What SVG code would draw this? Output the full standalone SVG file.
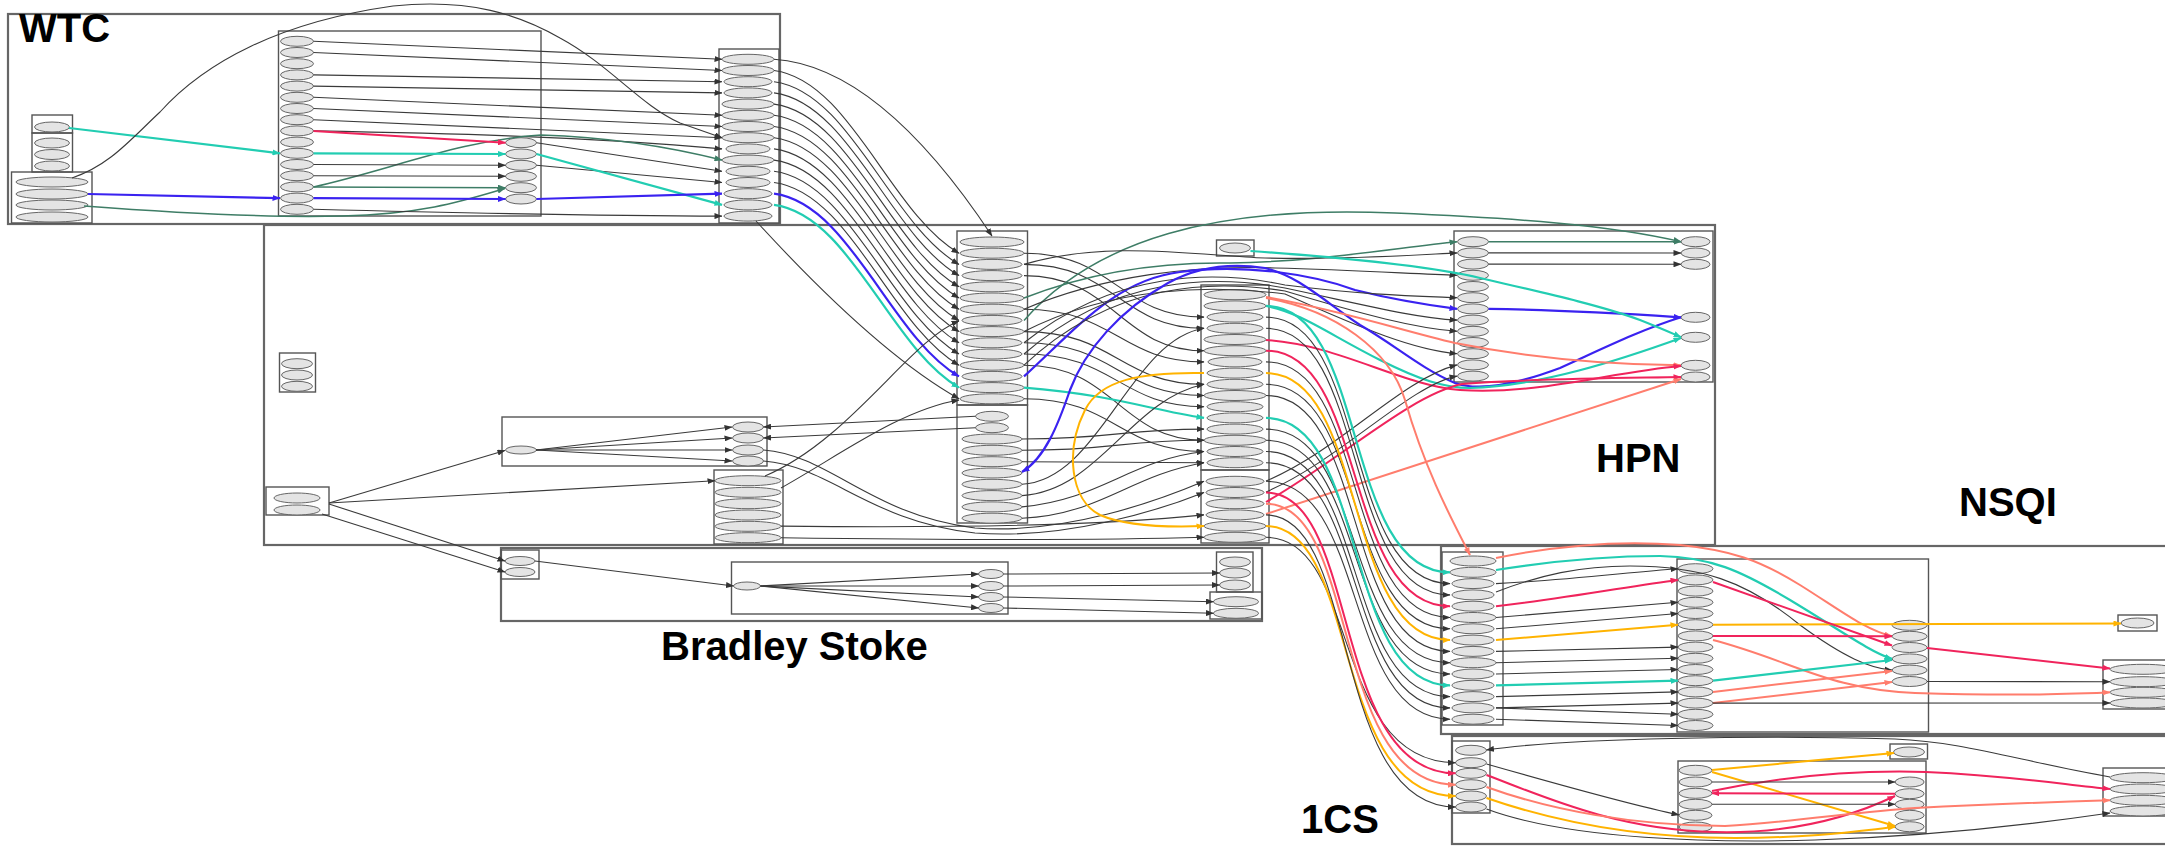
<svg xmlns="http://www.w3.org/2000/svg" width="2165" height="848" viewBox="0 0 2165 848">
<defs>
<style>
.node ellipse{fill:#e4e4e4;stroke:#666;stroke-width:1}
.node rect{fill:none;stroke:#555;stroke-width:1.4}
.node rect.ob{stroke:#666;stroke-width:2.2}
.lbl{font-family:"Liberation Sans",Arial,sans-serif;font-weight:bold;font-size:40px;fill:#000}
#edges path{fill:none;stroke:#3a3a3a;stroke-width:1.1;marker-end:url(#mk)}
#edges path.t{stroke:#22cdb2;stroke-width:2.2;marker-end:url(#mt)}
#edges path.b{stroke:#3a22f0;stroke-width:2.2;marker-end:url(#mb)}
#edges path.r{stroke:#f0245c;stroke-width:2;marker-end:url(#mr)}
#edges path.s{stroke:#ff7d6d;stroke-width:2;marker-end:url(#ms)}
#edges path.o{stroke:#ffb300;stroke-width:2;marker-end:url(#mo)}
#edges path.g{stroke:#3e7d66;stroke-width:1.5;marker-end:url(#mg)}
</style>
<marker id="mk" markerUnits="userSpaceOnUse" markerWidth="8" markerHeight="6" refX="7.5" refY="3" orient="auto"><path d="M0,0L8,3L0,6z" fill="#333"/></marker>
<marker id="mt" markerUnits="userSpaceOnUse" markerWidth="8" markerHeight="6" refX="7.5" refY="3" orient="auto"><path d="M0,0L8,3L0,6z" fill="#22cdb2"/></marker>
<marker id="mb" markerUnits="userSpaceOnUse" markerWidth="8" markerHeight="6" refX="7.5" refY="3" orient="auto"><path d="M0,0L8,3L0,6z" fill="#3a22f0"/></marker>
<marker id="mr" markerUnits="userSpaceOnUse" markerWidth="8" markerHeight="6" refX="7.5" refY="3" orient="auto"><path d="M0,0L8,3L0,6z" fill="#f0245c"/></marker>
<marker id="ms" markerUnits="userSpaceOnUse" markerWidth="8" markerHeight="6" refX="7.5" refY="3" orient="auto"><path d="M0,0L8,3L0,6z" fill="#ff7d6d"/></marker>
<marker id="mo" markerUnits="userSpaceOnUse" markerWidth="8" markerHeight="6" refX="7.5" refY="3" orient="auto"><path d="M0,0L8,3L0,6z" fill="#ffb300"/></marker>
<marker id="mg" markerUnits="userSpaceOnUse" markerWidth="8" markerHeight="6" refX="7.5" refY="3" orient="auto"><path d="M0,0L8,3L0,6z" fill="#3e7d66"/></marker>
</defs>
<rect width="2165" height="848" fill="#fff"/>

<g id="wtc" class="node">
<rect class="ob" x="8" y="14" width="772" height="210"/>
<text class="lbl" x="19" y="42">WTC</text>
<rect x="32" y="115" width="40.5" height="18"/>
<rect x="32" y="133" width="40.5" height="39"/>
<ellipse cx="52" cy="127" rx="17.5" ry="5"/>
<ellipse cx="52" cy="143" rx="17.5" ry="5"/>
<ellipse cx="52" cy="154.5" rx="17.5" ry="5"/>
<ellipse cx="52" cy="166" rx="17.5" ry="5"/>
<rect x="11.5" y="172" width="80.5" height="51"/>
<ellipse cx="52" cy="182" rx="36" ry="5"/>
<ellipse cx="52" cy="194" rx="36" ry="5"/>
<ellipse cx="52" cy="205" rx="36" ry="5"/>
<ellipse cx="52" cy="217" rx="36" ry="5"/>
<rect x="278.5" y="31" width="262.5" height="185"/>
<ellipse cx="297" cy="41.3" rx="16.5" ry="5"/>
<ellipse cx="297" cy="52.5" rx="16.5" ry="5"/>
<ellipse cx="297" cy="63.7" rx="16.5" ry="5"/>
<ellipse cx="297" cy="74.9" rx="16.5" ry="5"/>
<ellipse cx="297" cy="86.1" rx="16.5" ry="5"/>
<ellipse cx="297" cy="97.3" rx="16.5" ry="5"/>
<ellipse cx="297" cy="108.5" rx="16.5" ry="5"/>
<ellipse cx="297" cy="119.7" rx="16.5" ry="5"/>
<ellipse cx="297" cy="130.9" rx="16.5" ry="5"/>
<ellipse cx="297" cy="142.1" rx="16.5" ry="5"/>
<ellipse cx="297" cy="153.3" rx="16.5" ry="5"/>
<ellipse cx="297" cy="164.5" rx="16.5" ry="5"/>
<ellipse cx="297" cy="175.7" rx="16.5" ry="5"/>
<ellipse cx="297" cy="186.9" rx="16.5" ry="5"/>
<ellipse cx="297" cy="198.1" rx="16.5" ry="5"/>
<ellipse cx="297" cy="209.3" rx="16.5" ry="5"/>
<ellipse cx="521" cy="142.7" rx="15.5" ry="5"/>
<ellipse cx="521" cy="154" rx="15.5" ry="5"/>
<ellipse cx="521" cy="165.3" rx="15.5" ry="5"/>
<ellipse cx="521" cy="176.3" rx="15.5" ry="5"/>
<ellipse cx="521" cy="187.7" rx="15.5" ry="5"/>
<ellipse cx="521" cy="199" rx="15.5" ry="5"/>
<rect x="719" y="49" width="60" height="174"/>
<ellipse cx="748" cy="59.3" rx="26" ry="5"/>
<ellipse cx="748" cy="70.5" rx="26" ry="5"/>
<ellipse cx="748" cy="81.7" rx="24" ry="5"/>
<ellipse cx="748" cy="92.9" rx="24" ry="5"/>
<ellipse cx="748" cy="104.1" rx="26" ry="5"/>
<ellipse cx="748" cy="115.3" rx="26" ry="5"/>
<ellipse cx="748" cy="126.5" rx="26" ry="5"/>
<ellipse cx="748" cy="137.7" rx="26" ry="5"/>
<ellipse cx="748" cy="148.9" rx="22" ry="5"/>
<ellipse cx="748" cy="160.1" rx="26" ry="5"/>
<ellipse cx="748" cy="171.3" rx="22" ry="5"/>
<ellipse cx="748" cy="182.5" rx="22" ry="5"/>
<ellipse cx="748" cy="193.7" rx="24" ry="5"/>
<ellipse cx="748" cy="204.9" rx="24" ry="5"/>
<ellipse cx="748" cy="216.1" rx="24" ry="5"/>
</g>

<g id="hpn" class="node">
<rect class="ob" x="264" y="225" width="1451" height="320"/>
<text class="lbl" x="1596" y="472">HPN</text>
<rect x="279.5" y="353" width="36" height="39"/>
<ellipse cx="297" cy="363.7" rx="15.5" ry="5"/>
<ellipse cx="297" cy="375" rx="15.5" ry="5"/>
<ellipse cx="297" cy="386.3" rx="15.5" ry="5"/>
<rect x="266" y="487" width="63" height="28"/>
<ellipse cx="297" cy="498" rx="23" ry="5"/>
<ellipse cx="297" cy="510" rx="23" ry="5"/>
<rect x="502" y="417" width="265" height="49"/>
<ellipse cx="521" cy="450" rx="15.5" ry="4"/>
<ellipse cx="748" cy="427" rx="15.5" ry="5"/>
<ellipse cx="748" cy="438" rx="15.5" ry="5"/>
<ellipse cx="748" cy="450" rx="15.5" ry="5"/>
<ellipse cx="748" cy="461" rx="15.5" ry="5"/>
<rect x="714" y="470" width="69" height="74"/>
<ellipse cx="748" cy="480.7" rx="33" ry="5"/>
<ellipse cx="748" cy="492.3" rx="33" ry="5"/>
<ellipse cx="748" cy="503.7" rx="33" ry="5"/>
<ellipse cx="748" cy="515" rx="33" ry="5"/>
<ellipse cx="748" cy="526.3" rx="33" ry="5"/>
<ellipse cx="748" cy="537.7" rx="33" ry="5"/>
<rect x="957" y="231" width="70.5" height="174"/>
<rect x="957" y="405" width="70.5" height="118"/>
<ellipse cx="992" cy="242" rx="32" ry="5"/>
<ellipse cx="992" cy="253.2" rx="32" ry="5"/>
<ellipse cx="992" cy="264.4" rx="30" ry="5"/>
<ellipse cx="992" cy="275.6" rx="30" ry="5"/>
<ellipse cx="992" cy="286.8" rx="32" ry="5"/>
<ellipse cx="992" cy="298" rx="32" ry="5"/>
<ellipse cx="992" cy="309.2" rx="32" ry="5"/>
<ellipse cx="992" cy="320.4" rx="30" ry="5"/>
<ellipse cx="992" cy="331.6" rx="32" ry="5"/>
<ellipse cx="992" cy="342.8" rx="30" ry="5"/>
<ellipse cx="992" cy="354" rx="30" ry="5"/>
<ellipse cx="992" cy="365.2" rx="32" ry="5"/>
<ellipse cx="992" cy="376.4" rx="30" ry="5"/>
<ellipse cx="992" cy="387.6" rx="32" ry="5"/>
<ellipse cx="992" cy="398.8" rx="32" ry="5"/>
<ellipse cx="992" cy="416.3" rx="16.5" ry="5"/>
<ellipse cx="992" cy="427.7" rx="16.5" ry="5"/>
<ellipse cx="992" cy="439" rx="30" ry="5"/>
<ellipse cx="992" cy="450.3" rx="30" ry="5"/>
<ellipse cx="992" cy="461.7" rx="30" ry="5"/>
<ellipse cx="992" cy="473" rx="30" ry="5"/>
<ellipse cx="992" cy="484.3" rx="30" ry="5"/>
<ellipse cx="992" cy="495.6" rx="30" ry="5"/>
<ellipse cx="992" cy="506.9" rx="30" ry="5"/>
<ellipse cx="992" cy="518.2" rx="30" ry="5"/>
<rect x="1216.5" y="240" width="37.5" height="16"/>
<ellipse cx="1235" cy="248" rx="15.5" ry="5"/>
<rect x="1201" y="285" width="68" height="185"/>
<rect x="1201" y="470" width="68" height="73"/>
<ellipse cx="1235" cy="294.7" rx="31" ry="5"/>
<ellipse cx="1235" cy="305.9" rx="31" ry="5"/>
<ellipse cx="1235" cy="317.1" rx="28" ry="5"/>
<ellipse cx="1235" cy="328.3" rx="28" ry="5"/>
<ellipse cx="1235" cy="339.5" rx="31" ry="5"/>
<ellipse cx="1235" cy="350.7" rx="31" ry="5"/>
<ellipse cx="1235" cy="361.9" rx="27" ry="5"/>
<ellipse cx="1235" cy="373.1" rx="28" ry="5"/>
<ellipse cx="1235" cy="384.3" rx="28" ry="5"/>
<ellipse cx="1235" cy="395.5" rx="31" ry="5"/>
<ellipse cx="1235" cy="406.7" rx="28" ry="5"/>
<ellipse cx="1235" cy="417.9" rx="28" ry="5"/>
<ellipse cx="1235" cy="429.1" rx="28" ry="5"/>
<ellipse cx="1235" cy="440.3" rx="31" ry="5"/>
<ellipse cx="1235" cy="451.5" rx="28" ry="5"/>
<ellipse cx="1235" cy="462.7" rx="28" ry="5"/>
<ellipse cx="1235" cy="481.3" rx="29" ry="5"/>
<ellipse cx="1235" cy="492.5" rx="29" ry="5"/>
<ellipse cx="1235" cy="503.7" rx="29" ry="5"/>
<ellipse cx="1235" cy="514.9" rx="29" ry="5"/>
<ellipse cx="1235" cy="526.1" rx="31" ry="5"/>
<ellipse cx="1235" cy="537.3" rx="31" ry="5"/>
<rect x="1454" y="231" width="259" height="151"/>
<ellipse cx="1473" cy="241.7" rx="15.5" ry="5"/>
<ellipse cx="1473" cy="252.9" rx="15.5" ry="5"/>
<ellipse cx="1473" cy="264.1" rx="15.5" ry="5"/>
<ellipse cx="1473" cy="275.3" rx="15.5" ry="5"/>
<ellipse cx="1473" cy="286.5" rx="15.5" ry="5"/>
<ellipse cx="1473" cy="297.7" rx="15.5" ry="5"/>
<ellipse cx="1473" cy="308.9" rx="15.5" ry="5"/>
<ellipse cx="1473" cy="320.1" rx="15.5" ry="5"/>
<ellipse cx="1473" cy="331.3" rx="15.5" ry="5"/>
<ellipse cx="1473" cy="342.5" rx="15.5" ry="5"/>
<ellipse cx="1473" cy="353.7" rx="15.5" ry="5"/>
<ellipse cx="1473" cy="364.9" rx="15.5" ry="5"/>
<ellipse cx="1473" cy="376.1" rx="15.5" ry="5"/>
<ellipse cx="1695.5" cy="241.7" rx="14.5" ry="5"/>
<ellipse cx="1695.5" cy="253" rx="14.5" ry="5"/>
<ellipse cx="1695.5" cy="264.3" rx="14.5" ry="5"/>
<ellipse cx="1695.5" cy="317.3" rx="14.5" ry="5"/>
<ellipse cx="1695.5" cy="337.3" rx="14.5" ry="5"/>
<ellipse cx="1695.5" cy="365.3" rx="14.5" ry="5"/>
<ellipse cx="1695.5" cy="377" rx="14.5" ry="5"/>
</g>

<g id="bradley" class="node">
<rect class="ob" x="501" y="548" width="761" height="73"/>
<text class="lbl" x="661" y="660">Bradley Stoke</text>
<rect x="501" y="550" width="38" height="29"/>
<ellipse cx="520" cy="561" rx="15" ry="4.5"/>
<ellipse cx="520" cy="572" rx="15" ry="4.5"/>
<rect x="731.5" y="562" width="276.5" height="52"/>
<ellipse cx="747" cy="586" rx="13.5" ry="4"/>
<ellipse cx="991" cy="574" rx="12.5" ry="4.5"/>
<ellipse cx="991" cy="586" rx="12.5" ry="4.5"/>
<ellipse cx="991" cy="597" rx="12.5" ry="4.5"/>
<ellipse cx="991" cy="608" rx="12.5" ry="4.5"/>
<rect x="1216.5" y="552" width="36.5" height="40"/>
<ellipse cx="1235" cy="562" rx="15.5" ry="5"/>
<ellipse cx="1235" cy="573" rx="15.5" ry="5"/>
<ellipse cx="1235" cy="585" rx="15.5" ry="5"/>
<rect x="1210" y="592" width="52" height="27"/>
<ellipse cx="1236" cy="601.7" rx="22.5" ry="5"/>
<ellipse cx="1236" cy="613.3" rx="22.5" ry="5"/>
</g>

<g id="nsqi" class="node">
<rect class="ob" x="1441" y="546" width="740" height="188"/>
<text class="lbl" x="1959" y="516">NSQI</text>
<rect x="1442" y="552" width="61" height="173"/>
<ellipse cx="1473" cy="561" rx="23" ry="5"/>
<ellipse cx="1473" cy="572.3" rx="23" ry="5"/>
<ellipse cx="1473" cy="583.6" rx="21" ry="5"/>
<ellipse cx="1473" cy="594.9" rx="21" ry="5"/>
<ellipse cx="1473" cy="606.2" rx="21" ry="5"/>
<ellipse cx="1473" cy="617.5" rx="23" ry="5"/>
<ellipse cx="1473" cy="628.8" rx="21" ry="5"/>
<ellipse cx="1473" cy="640.1" rx="21" ry="5"/>
<ellipse cx="1473" cy="651.4" rx="21" ry="5"/>
<ellipse cx="1473" cy="662.7" rx="23" ry="5"/>
<ellipse cx="1473" cy="674" rx="21" ry="5"/>
<ellipse cx="1473" cy="685.3" rx="21" ry="5"/>
<ellipse cx="1473" cy="696.6" rx="21" ry="5"/>
<ellipse cx="1473" cy="707.9" rx="21" ry="5"/>
<ellipse cx="1473" cy="719.2" rx="21" ry="5"/>
<rect x="1677" y="559" width="251.5" height="173"/>
<ellipse cx="1695.5" cy="568.7" rx="17.5" ry="5"/>
<ellipse cx="1695.5" cy="579.9" rx="17.5" ry="5"/>
<ellipse cx="1695.5" cy="591.1" rx="17.5" ry="5"/>
<ellipse cx="1695.5" cy="602.3" rx="17.5" ry="5"/>
<ellipse cx="1695.5" cy="613.5" rx="17.5" ry="5"/>
<ellipse cx="1695.5" cy="624.7" rx="17.5" ry="5"/>
<ellipse cx="1695.5" cy="635.9" rx="17.5" ry="5"/>
<ellipse cx="1695.5" cy="647.1" rx="17.5" ry="5"/>
<ellipse cx="1695.5" cy="658.3" rx="17.5" ry="5"/>
<ellipse cx="1695.5" cy="669.5" rx="17.5" ry="5"/>
<ellipse cx="1695.5" cy="680.7" rx="17.5" ry="5"/>
<ellipse cx="1695.5" cy="691.9" rx="17.5" ry="5"/>
<ellipse cx="1695.5" cy="703.1" rx="17.5" ry="5"/>
<ellipse cx="1695.5" cy="714.3" rx="17.5" ry="5"/>
<ellipse cx="1695.5" cy="725.5" rx="17.5" ry="5"/>
<ellipse cx="1909.6" cy="625.3" rx="17.5" ry="5"/>
<ellipse cx="1909.6" cy="636.3" rx="17.5" ry="5"/>
<ellipse cx="1909.6" cy="647.5" rx="17.5" ry="5"/>
<ellipse cx="1909.6" cy="658.9" rx="17.5" ry="5"/>
<ellipse cx="1909.6" cy="670.1" rx="17.5" ry="5"/>
<ellipse cx="1909.6" cy="681.5" rx="17.5" ry="5"/>
<rect x="2118" y="615" width="39" height="16"/>
<ellipse cx="2137.5" cy="623" rx="16.5" ry="5"/>
<rect x="2103" y="660" width="80" height="49"/>
<ellipse cx="2143" cy="669.3" rx="33" ry="5"/>
<ellipse cx="2143" cy="681.7" rx="33" ry="5"/>
<ellipse cx="2143" cy="692.3" rx="33" ry="5"/>
<ellipse cx="2143" cy="703" rx="33" ry="5"/>
</g>

<g id="ics" class="node">
<rect class="ob" x="1452" y="736" width="730" height="108"/>
<text class="lbl" x="1301" y="833">1CS</text>
<rect x="1452" y="741" width="38" height="72"/>
<ellipse cx="1471" cy="750.3" rx="15.5" ry="5"/>
<ellipse cx="1471" cy="762.7" rx="15.5" ry="5"/>
<ellipse cx="1471" cy="773.3" rx="15.5" ry="5"/>
<ellipse cx="1471" cy="784.7" rx="15.5" ry="5"/>
<ellipse cx="1471" cy="796" rx="15.5" ry="5"/>
<ellipse cx="1471" cy="807" rx="15.5" ry="5"/>
<rect x="1678" y="761" width="248" height="72"/>
<ellipse cx="1695.5" cy="770.3" rx="16.5" ry="5"/>
<ellipse cx="1695.5" cy="782" rx="16.5" ry="5"/>
<ellipse cx="1695.5" cy="793.3" rx="16.5" ry="5"/>
<ellipse cx="1695.5" cy="804.3" rx="16.5" ry="5"/>
<ellipse cx="1695.5" cy="815.3" rx="16.5" ry="5"/>
<ellipse cx="1695.5" cy="827" rx="16.5" ry="5"/>
<ellipse cx="1909.6" cy="782" rx="14.5" ry="5"/>
<ellipse cx="1909.6" cy="793.7" rx="14.5" ry="5"/>
<ellipse cx="1909.6" cy="804.3" rx="14.5" ry="5"/>
<ellipse cx="1909.6" cy="815.3" rx="14.5" ry="5"/>
<ellipse cx="1909.6" cy="826.7" rx="14.5" ry="5"/>
<rect x="1890" y="744" width="37.5" height="15"/>
<ellipse cx="1909" cy="752" rx="15.5" ry="5"/>
<rect x="2103" y="768" width="80" height="48"/>
<ellipse cx="2143" cy="777.7" rx="33" ry="5"/>
<ellipse cx="2143" cy="789" rx="33" ry="5"/>
<ellipse cx="2143" cy="800.3" rx="33" ry="5"/>
<ellipse cx="2143" cy="811" rx="33" ry="5"/>
</g>

<g id="edges">
<path class="t" d="M69,128 L280,153.3"/>
<path class="b" d="M88,194 L280,198.1"/>
<path class="g" d="M84,206 C190,214 270,218 342,216 C425,214 466,200 505,188.5"/>
<path d="M313.5,209.3 C460,213 620,216 722,216.1"/>
<path d="M72,178 C110,165 130,140 160,112 C205,62 280,22 393,6 C470,-2 520,15 560,38 C610,65 640,105 680,123 L722,137.7"/>
<path d="M313.5,41.3 L722,59.3"/>
<path d="M313.5,52.5 L722,70.5"/>
<path d="M313.5,74.9 L722,81.7"/>
<path d="M313.5,86.1 L722,92.9"/>
<path d="M313.5,97.3 L722,115.3"/>
<path d="M313.5,108.5 L722,126.5"/>
<path d="M313.5,119.7 L722,137.7"/>
<path d="M313.5,130.9 C430,133 580,136 722,148.9"/>
<path class="g" d="M313.5,186.9 C390,170 460,140 541,135 C630,138 690,152 722,160.1"/>
<path d="M536.5,142.7 L722,171.3"/>
<path d="M536.5,165.3 L722,182.5"/>
<path class="t" d="M536.5,154 L722,204.9"/>
<path class="b" d="M536.5,199 L722,193.7"/>
<path class="r" d="M313.5,130.9 L505.5,142.7"/>
<path class="t" d="M313.5,153.3 L505.5,154"/>
<path d="M313.5,164.5 L505.5,165.3"/>
<path d="M313.5,175.7 L505.5,176.3"/>
<path class="g" d="M313.5,186.9 L505.5,187.7"/>
<path class="b" d="M313.5,198.1 L505.5,199"/>
<path d="M774,59.3 C860,65 935,150 992,236"/>
<path d="M774,70.5 C850,80.5 890,213.2 959,253.2"/>
<path d="M774,81.7 C850,91.7 890,224.4 959,264.4"/>
<path d="M774,92.9 C850,102.9 890,235.6 959,275.6"/>
<path d="M774,104.1 C850,114.1 890,246.8 959,286.8"/>
<path d="M774,115.3 C850,125.3 890,258 959,298"/>
<path d="M774,126.5 C850,136.5 890,269.2 959,309.2"/>
<path d="M774,137.7 C850,147.7 890,280.4 959,320.4"/>
<path d="M774,148.9 C850,158.9 890,291.6 959,331.6"/>
<path d="M774,160.1 C850,170.1 890,302.8 959,342.8"/>
<path d="M774,171.3 C850,181.3 890,314 959,354"/>
<path d="M774,182.5 C850,192.5 890,325.2 959,365.2"/>
<path class="b" d="M774,193.7 C850,203.7 890,336.4 959,376.4"/>
<path class="t" d="M774,204.9 C850,214.9 890,347.6 959,387.6"/>
<path d="M756,221 C810,280 890,360 959,398.8"/>
<path d="M329,503 L505,450.5"/>
<path d="M329,503 L715,480.7"/>
<path d="M329,504 L505,561"/>
<path d="M322,514 L505,572"/>
<path d="M536,450 L732,427"/>
<path d="M536,450 L732,438"/>
<path d="M536,450 L732,450"/>
<path d="M536,450 L732,461"/>
<path d="M975.5,416.3 L763.5,427"/>
<path d="M975.5,427.7 L763.5,438"/>
<path d="M763.5,450 C830,455 870,515 975,528 C1065,535 1160,500 1204,481.3"/>
<path d="M763.5,461 C830,466 870,522 975,533 C1065,540 1160,510 1204,492.5"/>
<path d="M765,476 C850,440 910,340 959,321"/>
<path d="M781,488 C840,455 900,410 959,400"/>
<path d="M781,526.1 C950,528 1110,525 1204,514.9"/>
<path d="M781,537.7 C950,540 1110,540 1204,537.3"/>
<path d="M1024,253.2 C1115,253.2 1120,317.1 1204,317.1"/>
<path d="M1024,264.4 C1115,264.4 1120,328.3 1204,328.3"/>
<path d="M1024,275.6 C1115,275.6 1120,350.7 1204,350.7"/>
<path d="M1024,309.2 C1115,309.2 1120,361.9 1204,361.9"/>
<path d="M1024,331.6 C1115,331.6 1120,384.3 1204,384.3"/>
<path d="M1024,342.8 C1115,342.8 1120,395.5 1204,395.5"/>
<path d="M1024,354 C1115,354 1120,406.7 1204,406.7"/>
<path d="M1024,365.2 C1115,365.2 1120,440.3 1204,440.3"/>
<path d="M1024,398.8 C1115,398.8 1120,451.5 1204,451.5"/>
<path class="t" d="M1024,387.6 C1115,395 1150,410 1204,417.9"/>
<path d="M1022,439 C1115,439 1120,429.1 1204,429.1"/>
<path d="M1022,450.3 C1115,450.3 1120,440.3 1204,440.3"/>
<path d="M1022,461.7 C1115,461.7 1120,462.7 1204,462.7"/>
<path d="M1022,484.3 C1100,480 1130,340 1204,328.3"/>
<path d="M1022,495.6 C1100,490 1130,400 1204,384.3"/>
<path d="M1022,506.9 C1100,500 1130,460 1204,451.5"/>
<path d="M1022,518.2 C1100,515 1130,475 1204,462.7"/>
<path class="g" d="M1024,320.4 C1095,240 1215,205 1395,213 C1515,218 1610,225 1681,241.7"/>
<path class="g" d="M1024,298 C1095,270 1165,262 1230,263 C1315,262 1395,248 1457,241.7"/>
<path d="M1024,309.2 C1105,275 1195,265 1275,268 C1355,270 1415,274 1457,275.3"/>
<path d="M1024,264.4 C1105,240 1195,255 1265,258 C1345,260 1415,255 1457,252.9"/>
<path class="b" d="M1024,376.4 C1075,330 1115,280 1180,272 C1245,263 1315,275 1355,290 C1395,300 1435,306 1457,308.9"/>
<path d="M1024,342.8 C1115,270 1215,270 1285,285 C1365,295 1415,296 1457,297.7"/>
<path d="M1024,354 C1115,275 1215,275 1285,288 C1365,305 1415,318 1457,320.1"/>
<path d="M1024,365.2 C1115,280 1215,280 1285,291 C1365,315 1415,328 1457,331.3"/>
<path d="M1024,331.6 C1115,285 1215,285 1285,294 C1365,330 1415,350 1457,353.7"/>
<path class="b" d="M1681,317.3 C1640,330 1600,350 1560,368 C1520,383 1480,392 1455,383 C1420,368 1395,345 1360,325 C1320,298 1300,277 1265,268 C1225,262 1195,268 1168,283 C1120,310 1085,350 1070,390 C1058,425 1045,458 1022,472"/>
<path class="g" d="M1488.5,241.7 L1681,241.7"/>
<path d="M1488.5,252.9 L1681,253"/>
<path d="M1488.5,264.1 L1681,264.3"/>
<path class="b" d="M1488.5,308.9 C1570,310 1630,314 1681,317.3"/>
<path class="t" d="M1250.5,251 C1350,258 1430,266 1480,278 C1540,292 1600,305 1640,320 C1660,328 1672,333 1681,337.3"/>
<path class="t" d="M1266,306 C1300,312 1330,335 1380,360 C1420,380 1445,388 1470,388 C1540,386 1620,360 1681,338"/>
<path class="s" d="M1266,297 C1340,310 1400,330 1455,343 C1550,362 1630,365 1681,365.3"/>
<path class="r" d="M1266,340 C1340,345 1400,385 1460,390 C1540,395 1610,372 1681,366"/>
<path class="r" d="M1266,502 C1340,460 1410,395 1462,384 C1540,378 1630,378 1681,377"/>
<path class="s" d="M1266,514 L1681,379"/>
<path d="M1266,481 C1340,450 1400,380 1457,364.9"/>
<path d="M1266,492 C1340,460 1410,385 1457,376.1"/>
<path class="o" d="M1204,373.1 C1140,372 1100,380 1085,410 C1065,450 1070,500 1100,515 C1130,528 1180,527 1204,526.1"/>
<path class="s" d="M1266,298 C1335,310 1390,350 1405,400 C1425,470 1452,520 1470,555"/>
<path class="t" d="M1266,305.9 C1368,305.9 1342,572.3 1450,572.3"/>
<path d="M1266,317.1 C1368,317.1 1342,583.6 1450,583.6"/>
<path d="M1266,328.3 C1368,328.3 1342,594.9 1450,594.9"/>
<path class="r" d="M1266,350.7 C1368,350.7 1342,606.2 1450,606.2"/>
<path d="M1266,361.9 C1368,361.9 1342,617.5 1450,617.5"/>
<path d="M1266,384.3 C1368,384.3 1342,628.8 1450,628.8"/>
<path class="o" d="M1266,373.1 C1368,373.1 1342,640.1 1450,640.1"/>
<path d="M1266,395.5 C1368,395.5 1342,651.4 1450,651.4"/>
<path d="M1266,429.1 C1368,429.1 1342,662.7 1450,662.7"/>
<path d="M1266,440.3 C1368,440.3 1342,674 1450,674"/>
<path class="t" d="M1266,417.9 C1368,417.9 1342,685.3 1450,685.3"/>
<path d="M1266,451.5 C1368,451.5 1342,696.6 1450,696.6"/>
<path d="M1266,462.7 C1368,462.7 1342,707.9 1450,707.9"/>
<path d="M1266,481.3 C1368,481.3 1342,719.2 1450,719.2"/>
<path d="M1266,537.3 C1360,537.3 1330,762.7 1455.5,762.7"/>
<path class="r" d="M1266,492.5 C1360,492.5 1330,773.3 1455.5,773.3"/>
<path class="s" d="M1266,503.7 C1360,503.7 1330,784.7 1455.5,784.7"/>
<path class="o" d="M1266,526.1 C1360,526.1 1330,796 1455.5,796"/>
<path d="M1266,514.9 C1360,514.9 1330,807 1455.5,807"/>
<path class="s" d="M1496,558 C1560,545 1620,540 1680,545 C1730,550 1760,560 1800,585 C1840,610 1865,630 1892,636.3"/>
<path class="t" d="M1496,570 C1540,563 1600,556 1660,556 C1710,557 1740,570 1790,600 C1840,630 1870,652 1892,658.9"/>
<path d="M1496,592 C1540,575 1580,566 1630,566 C1700,566 1745,580 1800,625 C1845,658 1870,668 1892,670.1"/>
<path d="M1496,583.6 C1570,580 1630,572 1678,568.7"/>
<path class="r" d="M1496,606.2 C1570,598 1630,586 1678,579.9"/>
<path d="M1496,617.5 L1678,602.3"/>
<path d="M1496,628.8 L1678,613.5"/>
<path class="o" d="M1496,640.1 L1678,624.7"/>
<path d="M1496,651.4 L1678,647.1"/>
<path d="M1496,662.7 L1678,658.3"/>
<path d="M1496,674 L1678,669.5"/>
<path class="t" d="M1496,685.3 L1678,680.7"/>
<path d="M1496,696.6 L1678,691.9"/>
<path d="M1496,707.9 L1678,703.1"/>
<path d="M1496,707.9 L1678,714.3"/>
<path d="M1496,719.2 L1678,725.5"/>
<path class="o" d="M1713,624.7 L2121,623.5"/>
<path class="r" d="M1713,582 L1892,645.5"/>
<path class="r" d="M1713,636 L1892,636.3"/>
<path class="s" d="M1713,640 C1790,660 1830,690 1915,693 C2015,696 2065,694 2110,692.3"/>
<path class="t" d="M1713,680.7 L1892,660"/>
<path class="s" d="M1713,691.9 L1892,671"/>
<path class="s" d="M1713,703.1 L1892,682"/>
<path d="M1713,703.1 L2110,703"/>
<path d="M1927,681.5 L2110,681.7"/>
<path class="r" d="M1927,648 L2110,668.5"/>
<path class="o" d="M1712,770 L1894,753"/>
<path class="o" d="M1712,772 L1895,826"/>
<path class="r" d="M1895,793.7 L1712,793.3"/>
<path class="r" d="M1712,791 C1790,775 1860,770 1926,772 C2015,776 2065,785 2110,789"/>
<path class="r" d="M1486.5,775 C1540,795 1615,830 1715,832 C1795,834 1855,815 1895,796"/>
<path class="s" d="M1486.5,787 C1550,810 1635,826 1725,826 C1795,822 1855,812 1915,808 C1995,804 2055,802 2110,800.3"/>
<path class="o" d="M1486.5,798 C1550,820 1635,838 1735,838 C1815,838 1865,830 1895,827"/>
<path d="M1486.5,809 C1570,840 1715,843 1815,840 C1935,836 2035,824 2110,813"/>
<path d="M2110,777 C2015,760 1965,742 1895,739 C1765,735 1565,738 1486.5,750"/>
<path d="M1486.5,764 C1560,785 1632,805 1679,815"/>
<path d="M1712,782 L1895,782"/>
<path d="M1712,804.3 L1895,804.3"/>
<path d="M535,561 L733.5,586"/>
<path d="M760.5,586 L978.5,574"/>
<path d="M760.5,586 L978.5,586"/>
<path d="M760.5,586 L978.5,597"/>
<path d="M760.5,586 L978.5,608"/>
<path d="M1003.5,574 L1219.5,573"/>
<path d="M1003.5,586 L1219.5,585"/>
<path d="M1003.5,597 L1213.5,601.7"/>
<path d="M1003.5,608 L1213.5,613.3"/>
</g>
</svg>
